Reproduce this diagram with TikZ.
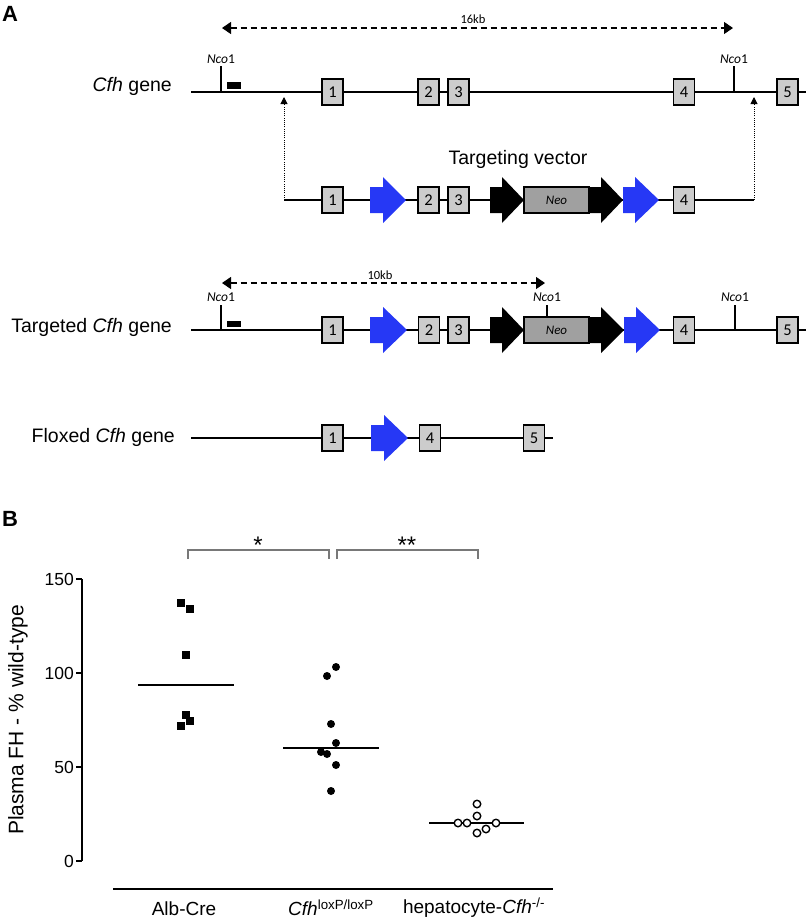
\documentclass[tikz,border=0pt]{standalone}
\usepackage{fontspec}
\setmainfont{Liberation Sans}
\newfontfamily\carl{Carlito}
\usetikzlibrary{arrows.meta}
\definecolor{loxblue}{RGB}{38,56,245}
\definecolor{exgray}{RGB}{204,204,204}
\definecolor{neogray}{RGB}{160,160,160}
\definecolor{brgray}{RGB}{120,120,120}
\newcommand{\cassdraw}[5]{\fill[#5] (#1,{#4-13}) -- (#2,{#4-13}) -- (#2,{#4-23}) -- (#3,#4) -- (#2,{#4+23}) -- (#2,{#4+13}) -- (#1,{#4+13}) -- cycle;}
\begin{document}
\begin{tikzpicture}[x=1pt,y=-1pt,
 gline/.style={line width=1.4pt},
 exon/.style={draw,line width=1.4pt,fill=exgray,minimum width=21pt,minimum height=26pt,inner sep=0pt,font=\carl\fontsize{16.5}{16.5}\selectfont},
 neobox/.style={draw,line width=1.4pt,fill=neogray,minimum width=65pt,minimum height=26pt,inner sep=0pt,font=\carl\itshape\fontsize{13}{13}\selectfont},
 nco/.style={font=\carl\fontsize{13.5}{13.5}\selectfont,inner sep=0pt},
 kb/.style={font=\carl\fontsize{12.5}{12.5}\selectfont,inner sep=0pt},
 biglab/.style={font=\fontsize{19.5}{19.5}\selectfont,inner sep=0pt},
 ticksty/.style={line width=1.2pt},
 probe/.style={fill=black},
 dimarrow/.style={line width=1.2pt,dash pattern=on 6pt off 4pt,{Triangle[length=9pt,width=12pt]}-{Triangle[length=9pt,width=12pt]}},
 dotarrow/.style={line width=1pt,dash pattern=on 1pt off 1.2pt,-{Triangle[length=7pt,width=7pt]}},
 panel/.style={font=\bfseries\fontsize{22}{22}\selectfont,inner sep=0pt,anchor=west},
 axisln/.style={line width=1.3pt},
 ticklab/.style={font=\fontsize{17.5}{17.5}\selectfont,inner sep=0pt,anchor=east},
 catlab/.style={font=\fontsize{19}{19}\selectfont,inner sep=0pt},
 bracket/.style={brgray,line width=1.1pt},
 star/.style={font=\fontsize{24}{24}\selectfont,inner sep=0pt},
 sq/.style={fill=black,minimum size=7.5pt,inner sep=0pt},
 fc/.style={circle,fill=black,minimum size=8pt,inner sep=0pt},
 oc/.style={circle,draw,line width=1.4pt,fill=white,minimum size=7.5pt,inner sep=0pt},
 meanln/.style={line width=1.4pt}
]
\useasboundingbox (0,0) rectangle (807,922);
% ---------- Panel A ----------
\node[panel] (pA) at (2,14) {A};
% 16kb
\coordinate (k16a) at (222,28); \coordinate (k16b) at (733,28);
\draw[dimarrow] (k16a) -- (k16b);
\node[kb] (k16) at (473,19) {16kb};
% Cfh gene row
\node[biglab,anchor=east] (lab1) at (172,86) {\textit{Cfh} gene};
\coordinate (g1s) at (191,92); \coordinate (g1e) at (806,92);
\draw[gline] (g1s) -- (g1e);
\coordinate (g1n1) at (221,92); \coordinate (g1n1t) at (221,66);
\draw[ticksty] (g1n1) -- (g1n1t);
\node[nco] (g1n1l) at (221,59) {\textit{Nco}1};
\coordinate (g1n2) at (734,92); \coordinate (g1n2t) at (734,66);
\draw[ticksty] (g1n2) -- (g1n2t);
\node[nco] (g1n2l) at (734,59) {\textit{Nco}1};
\fill[probe] (227,82) rectangle (241,89);
\node[exon] (g1x1) at (332.5,92) {1};
\node[exon] (g1x2) at (428.5,92) {2};
\node[exon] (g1x3) at (458.5,92) {3};
\node[exon] (g1x4) at (684,92) {4};
\node[exon] (g1x5) at (787.5,92) {5};
% Targeting vector
\node[biglab] (tvl) at (518,159) {Targeting vector};
\coordinate (vs) at (284,200); \coordinate (ve) at (754,200);
\draw[gline] (vs) -- (ve);
\coordinate (ta) at (284,97); \coordinate (tb) at (754,97);
\draw[dotarrow] (vs) -- (ta);
\draw[dotarrow] (ve) -- (tb);
\node[exon] (vx1) at (332.5,200) {1};
\cassdraw{370}{383}{406}{200}{loxblue}
\node[exon] (vx2) at (428.5,200) {2};
\node[exon] (vx3) at (458.5,200) {3};
\cassdraw{490}{502}{524}{200}{black}
\node[neobox] (vneo) at (556.5,200) {Neo};
\cassdraw{589}{601}{623}{200}{black}
\cassdraw{623}{635}{659}{200}{loxblue}
\node[exon] (vx4) at (684,200) {4};
% Targeted Cfh gene
\coordinate (k10a) at (222,283); \coordinate (k10b) at (545,283);
\draw[dimarrow] (k10a) -- (k10b);
\node[kb] (k10) at (380,275) {10kb};
\node[biglab,anchor=east] (lab2) at (172,327) {Targeted \textit{Cfh} gene};
\coordinate (g2s) at (191,330); \coordinate (g2e) at (806,330);
\draw[gline] (g2s) -- (g2e);
\coordinate (g2n1) at (221,330); \coordinate (g2n1t) at (221,305);
\draw[ticksty] (g2n1) -- (g2n1t);
\node[nco] (g2n1l) at (221,297) {\textit{Nco}1};
\coordinate (g2n3) at (735,330); \coordinate (g2n3t) at (735,305);
\draw[ticksty] (g2n3) -- (g2n3t);
\node[nco] (g2n3l) at (735,297) {\textit{Nco}1};
\fill[probe] (227,321) rectangle (241,327);
\node[exon] (g2x1) at (332.5,330) {1};
\cassdraw{370}{383}{407}{330}{loxblue}
\node[exon] (g2x2) at (429,330) {2};
\node[exon] (g2x3) at (458.5,330) {3};
\cassdraw{490}{502}{524}{330}{black}
\node[neobox] (g2neo) at (556.5,330) {Neo};
\coordinate (g2n2t) at (547,305);
\draw[ticksty] (g2neo.north -| g2n2t) -- (g2n2t);
\node[nco] (g2n2l) at (547,297) {\textit{Nco}1};
\cassdraw{589}{601}{624}{330}{black}
\cassdraw{624}{636}{660}{330}{loxblue}
\node[exon] (g2x4) at (684,330) {4};
\node[exon] (g2x5) at (787.5,330) {5};
% Floxed Cfh gene
\node[biglab,anchor=east] (lab3) at (175,437) {Floxed \textit{Cfh} gene};
\coordinate (g3s) at (191,438); \coordinate (g3e) at (553,438);
\draw[gline] (g3s) -- (g3e);
\node[exon] (g3x1) at (332.5,438) {1};
\cassdraw{371}{384}{408}{438}{loxblue}
\node[exon] (g3x4) at (430,438) {4};
\node[exon] (g3x5) at (534,438) {5};
% ---------- Panel B ----------
\node[panel] (pB) at (2,519) {B};
\coordinate (ax0) at (82,861); \coordinate (ax150) at (82,579);
\draw[axisln] (ax0) -- (ax150);
\foreach \v/\yy in {150/579,100/673,50/767,0/861}{
  \draw[axisln] (76,\yy) -- (82,\yy);
  \node[ticklab] at (74,\yy) {\v};
}
\node[rotate=90,font=\fontsize{21}{21}\selectfont,inner sep=0pt] (ylab) at (18,720) {Plasma FH - \% wild-type};
\coordinate (bl1) at (113,889); \coordinate (bl2) at (553,889);
\draw[axisln] (bl1) -- (bl2);
\node[catlab] (c1) at (184,909) {Alb-Cre};
\node[catlab] (c2) at (331,908) {\textit{Cfh}\textsuperscript{loxP/loxP}};
\node[catlab] (c3) at (474,908) {hepatocyte-\textit{Cfh}\textsuperscript{-/-}};
% brackets
\coordinate (b1a) at (188,559); \coordinate (b1b) at (329,559);
\draw[bracket] (b1a) -- (188,550) -- (329,550) -- (b1b);
\coordinate (b2a) at (337,559); \coordinate (b2b) at (478,559);
\draw[bracket] (b2a) -- (337,550) -- (478,550) -- (b2b);
\node[star] (s1) at (258,545) {*};
\node[star] (s2) at (407,545) {**};
% Alb-Cre
\node[sq] (a1) at (181,603) {};
\node[sq] (a2) at (190,609) {};
\node[sq] (a3) at (186,655) {};
\node[sq] (a4) at (186,715) {};
\node[sq] (a5) at (190,721) {};
\node[sq] (a6) at (181,726) {};
\coordinate (m1a) at (138,685); \coordinate (m1b) at (234,685);
\draw[meanln] (m1a) -- (m1b);
% Cfh loxP/loxP
\coordinate (m2a) at (283,748); \coordinate (m2b) at (379,748);
\draw[meanln] (m2a) -- (m2b);
\node[fc] (f1) at (336,667) {};
\node[fc] (f2) at (327,676) {};
\node[fc] (f3) at (331,724) {};
\node[fc] (f4) at (336,743) {};
\node[fc] (f5) at (321,752) {};
\node[fc] (f6) at (327,754) {};
\node[fc] (f7) at (336,765) {};
\node[fc] (f8) at (331,791) {};
% hepatocyte
\coordinate (m3a) at (429,823); \coordinate (m3b) at (524,823);
\draw[meanln] (m3a) -- (m3b);
\node[oc] (o1) at (477,804) {};
\node[oc] (o2) at (477,816) {};
\node[oc] (o3) at (458,823) {};
\node[oc] (o4) at (467,823) {};
\node[oc] (o5) at (496,823) {};
\node[oc] (o6) at (486,829) {};
\node[oc] (o7) at (477,833) {};
\end{tikzpicture}
\end{document}
